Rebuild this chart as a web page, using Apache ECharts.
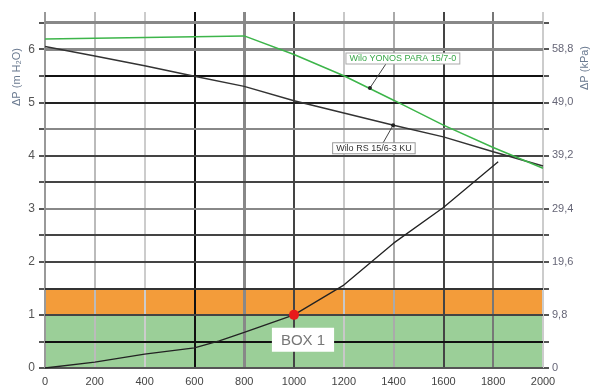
<!DOCTYPE html>
<html>
<head>
<meta charset="utf-8">
<script src="https://cdn.jsdelivr.net/npm/echarts@6/dist/echarts.min.js"></script>
<style>html,body{margin:0;padding:0;background:#fff}#c{width:590px;height:390px}</style>
</head>
<body>
<div id="c"></div>
<script>
// ---- data ----
const xTicks = [0,200,400,600,800,1000,1200,1400,1600,1800,2000];
const hLines = [0,0.5,1,1.5,2,2.5,3,3.5,4,4.5,5,5.5,6,6.5];
const leftLabels = [0,1,2,3,4,5,6];
const kpaLabels = ['0','9,8','19,6','29,4','39,2','49,0','58,8'];

const yonosX = [0, 800, 1000, 1200, 1400, 1600, 1800, 2000];
const yonosY = [6.19, 6.25, 5.9, 5.5, 5.04, 4.57, 4.15, 3.76];
const rsX = [0, 200, 400, 600, 800, 1000, 1200, 1400, 1600, 1800, 2000];
const rsY = [6.05, 5.87, 5.69, 5.49, 5.3, 5.03, 4.8, 4.57, 4.35, 4.07, 3.8];
const sysX = [0, 200, 400, 600, 700, 800, 1000, 1200, 1400, 1600, 1820];
const sysY = [0, 0.11, 0.26, 0.38, 0.51, 0.67, 1.0, 1.56, 2.35, 3.02, 3.88];

const greenBand = [0, 1];
const orangeBand = [1, 1.5];
const boxPoint = [1000, 1];
const boxName = 'BOX 1';

const yonosName = 'Wilo YONOS PARA 15/7-0';
const rsName = 'Wilo RS 15/6-3 KU';
const yonosLeader = [[1305, 5.27], [1373, 5.75]];
const rsLeader = [[1398, 4.57], [1357, 4.23]];

// ---- styles ----
const vStyles = [
  ['#999',2],['#bbb',2],['#ccc',2],['#111',2],['#888',3],['#444',2],
  ['#c8c8c8',2],['#aaa',2],['#444',2],['#777',2],['#ccc',2]
];
const hStyles = [
  ['#555',2],['#111',2],['#444',2],['#333',2],['#444',2],['#444',2],['#888',2],
  ['#444',2],['#444',2],['#888',2],['#222',2],['#111',2],['#888',3],['#888',3]
];

const zip = (xs, ys) => xs.map((x, i) => [x, ys[i]]);

const gridLines = [];
xTicks.forEach((v, i) => gridLines.push({xAxis: v, lineStyle: {color: vStyles[i][0], width: vStyles[i][1], type: 'solid'}}));
hLines.forEach((v, i) => gridLines.push({yAxis: v, lineStyle: {color: hStyles[i][0], width: hStyles[i][1], type: 'solid'}}));

const chart = echarts.init(document.getElementById('c'), null, {renderer: 'canvas'});
const font = 'Liberation Sans, Arial, sans-serif';

chart.setOption({
  animation: false,
  backgroundColor: '#fff',
  textStyle: {fontFamily: font},
  grid: {left: 45, right: 47, top: 12, bottom: 22, containLabel: false},
  xAxis: {
    type: 'value', min: 0, max: 2000, interval: 200,
    axisLine: {show: false}, axisTick: {show: false}, splitLine: {show: false},
    axisLabel: {color: '#444', fontSize: 11, margin: 8, fontFamily: font, formatter: v => String(v)}
  },
  yAxis: [{
    type: 'value', min: 0, max: 6.7, interval: 0.5, position: 'left',
    axisLine: {show: false}, splitLine: {show: false},
    axisTick: {show: true, customValues: hLines, length: 6, lineStyle: {color: '#555', width: 2}},
    axisLabel: {customValues: leftLabels, formatter: v => String(Math.round(v)), color: '#555', fontSize: 12, margin: 10, fontFamily: font}
  }, {
    type: 'value', min: 0, max: 6.7, interval: 0.5, position: 'right',
    axisLine: {show: false}, splitLine: {show: false},
    axisTick: {show: true, customValues: hLines, length: 6, lineStyle: {color: '#555', width: 2}},
    axisLabel: {customValues: leftLabels, formatter: v => kpaLabels[Math.round(v)], color: '#667', fontSize: 11, margin: 9, fontFamily: font}
  }],
  graphic: [
    {type: 'text', x: 17, y: 77, rotation: Math.PI / 2,
     style: {text: 'ΔP (m H₂O)', fill: '#6a7a90', font: '11px ' + font, align: 'center', verticalAlign: 'middle'}},
    {type: 'text', x: 585, y: 68, rotation: Math.PI / 2,
     style: {text: 'ΔP (kPa)', fill: '#6a7a90', font: '11px ' + font, align: 'center', verticalAlign: 'middle'}}
  ],
  series: [
    {
      type: 'line', data: [], z: 1, silent: true,
      markArea: {
        silent: true, z: 1,
        data: [
          [{xAxis: 0, yAxis: greenBand[0], itemStyle: {color: '#9bcf98', opacity: 1}}, {xAxis: 2000, yAxis: greenBand[1]}],
          [{xAxis: 0, yAxis: orangeBand[0], itemStyle: {color: '#f39c3a', opacity: 1}}, {xAxis: 2000, yAxis: orangeBand[1]}]
        ]
      }
    },
    {
      type: 'line', data: [], z: 2, silent: true,
      markLine: {silent: true, z: 2, symbol: ['none', 'none'], label: {show: false}, animation: false, data: gridLines}
    },
    {
      name: 'system', type: 'line', z: 3, showSymbol: false, silent: true,
      data: zip(sysX, sysY), lineStyle: {color: '#222', width: 1.3}
    },
    {
      name: rsName, type: 'line', z: 3, showSymbol: false, silent: true,
      data: zip(rsX, rsY), lineStyle: {color: '#333', width: 1.5}
    },
    {
      name: yonosName, type: 'line', z: 3, showSymbol: false, silent: true,
      data: zip(yonosX, yonosY), lineStyle: {color: '#3db54a', width: 1.5}
    },
    {
      type: 'line', z: 6, silent: true, showSymbol: true, symbol: 'circle',
      lineStyle: {color: '#444', width: 1},
      itemStyle: {color: '#222', opacity: 1},
      data: [
        {value: yonosLeader[0], symbolSize: 4},
        {value: yonosLeader[1], symbolSize: 0.01,
         label: {show: true, position: 'top', distance: 0, offset: [16, 1], formatter: yonosName,
                 color: '#3aa84a', fontSize: 9, fontFamily: font, backgroundColor: '#fff',
                 borderColor: '#aaa', borderWidth: 1, padding: [1, 3, 0, 3]}}
      ]
    },
    {
      type: 'line', z: 6, silent: true, showSymbol: true, symbol: 'circle',
      lineStyle: {color: '#444', width: 1},
      itemStyle: {color: '#222', opacity: 1},
      data: [
        {value: rsLeader[0], symbolSize: 4},
        {value: rsLeader[1], symbolSize: 0.01,
         label: {show: true, position: 'bottom', distance: 0, offset: [-9, 0], formatter: rsName,
                 color: '#333', fontSize: 9, fontFamily: font, backgroundColor: '#fff',
                 borderColor: '#999', borderWidth: 1, padding: [1, 3, 0, 3]}}
      ]
    },
    {
      type: 'scatter', z: 7, silent: true,
      data: [boxPoint], symbolSize: 10, itemStyle: {color: '#e8191c', opacity: 1},
      label: {show: true, position: 'bottom', distance: 8, offset: [9, 0], formatter: boxName,
              color: '#777', fontSize: 15, fontFamily: font, backgroundColor: '#fff', padding: [5, 9, 4, 9]}
    }
  ]
});
</script>
</body>
</html>
